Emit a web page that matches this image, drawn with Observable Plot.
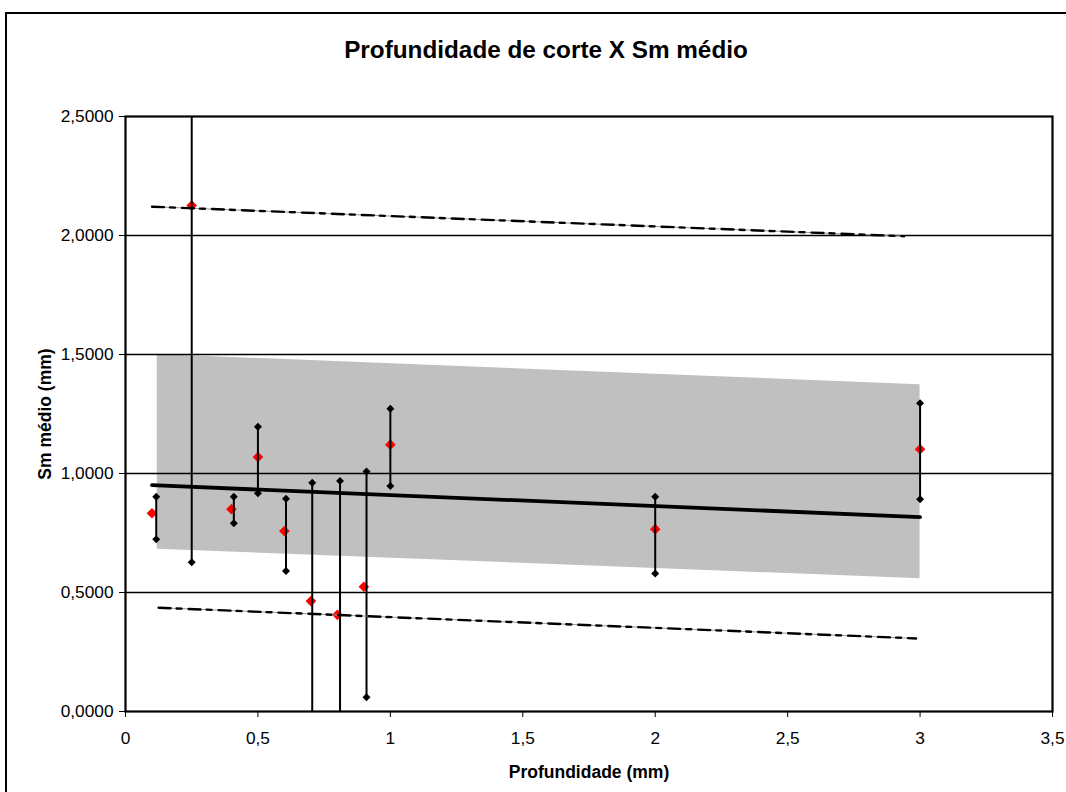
<!DOCTYPE html>
<html><head><meta charset="utf-8">
<script src="https://cdn.jsdelivr.net/npm/d3@7"></script>
<script src="https://cdn.jsdelivr.net/npm/@observablehq/plot@0.6"></script>
<style>
html,body{margin:0;padding:0;background:#fff;overflow:hidden;}
body{width:1066px;height:792px;position:relative;font-family:"Liberation Sans",Arial,sans-serif;}
#border{position:absolute;left:5px;top:12px;width:1100px;height:900px;border:2px solid #000;pointer-events:none;}
#title{height:100px;box-sizing:border-box;padding-top:38px;padding-left:26px;width:1066px;line-height:24px;font-size:24.3px;font-weight:bold;text-align:center;color:#000;}
#chart svg{display:block;}
</style></head><body>
<div id="border"></div>
<div id="title">Profundidade de corte X Sm médio</div>
<div id="chart"></div>
<script>
// Data
const depth  = [0.1, 0.25, 0.4, 0.5, 0.6, 0.7, 0.8, 0.9, 1.0, 2.0, 3.0];
const smMean = [0.833, 2.126, 0.850, 1.069, 0.758, 0.464, 0.406, 0.524, 1.121, 0.766, 1.102];
const barX   = [0.116, 0.25, 0.409, 0.5, 0.606, 0.705, 0.81, 0.91, 1.0, 2.0, 3.0];
const smMax  = [0.902, 3.6, 0.902, 1.196, 0.894, 0.961, 0.969, 1.008, 1.272, 0.902, 1.295];
const smMin  = [0.724, 0.627, 0.791, 0.917, 0.590, -0.05, -0.15, 0.060, 0.947, 0.580, 0.892];

const fitX = [0.1, 3.0];
const fitY = [0.951, 0.817];
const bandX  = [0.12, 3.0];
const bandLo = [0.682, 0.558];
const bandHi = [1.500, 1.373];
const upX = [0.1, 2.94];
const upY = [2.121, 1.997];
const lowX = [0.125, 2.985];
const lowY = [0.436, 0.307];

const xTicks = [0, 0.5, 1, 1.5, 2, 2.5, 3, 3.5];
const yTicks = [0, 0.5, 1, 1.5, 2, 2.5];
const gridY = [0.5, 1, 1.5, 2];

const rows = depth.map((d, i) => ({depth: d, mean: smMean[i], bx: barX[i], hi: smMax[i], lo: smMin[i]}));
const fit = fitX.map((x, i) => ({x, y: fitY[i]}));
const band = bandX.map((x, i) => ({x, lo: bandLo[i], hi: bandHi[i]}));
const up = upX.map((x, i) => ({x, y: upY[i]}));
const low = lowX.map((x, i) => ({x, y: lowY[i]}));

const font = '"Liberation Sans", Arial, sans-serif';

const chart = Plot.plot({
  width: 1066, height: 692,
  marginTop: 16, marginLeft: 125, marginRight: 14, marginBottom: 81,
  style: {fontFamily: font, fontSize: "17.3px", color: "#000", background: "#fff", overflow: "visible"},
  x: {domain: [0, 3.5], ticks: xTicks, tickFormat: d => String(d).replace(".", ","), tickSize: 6, tickPadding: 14, label: null},
  y: {domain: [0, 2.5], ticks: yTicks, tickFormat: d => d.toFixed(4).replace(".", ","), tickSize: 6, tickPadding: 6, label: null},
  marks: [
    Plot.areaY(band, {x: "x", y1: "lo", y2: "hi", fill: "#c0c0c0"}),
    Plot.ruleY(gridY, {stroke: "#000", strokeWidth: 1.6}),
    Plot.dot(rows, {x: "depth", y: "mean", symbol: "diamond2", r: 4.8, fill: "#ff0000", stroke: null}),
    Plot.ruleX(rows, {x: "bx", y1: "lo", y2: "hi", stroke: "#000", strokeWidth: 2, clip: true}),
    Plot.dot(rows, {x: "bx", y: "hi", symbol: "diamond2", r: 3.6, fill: "#000", stroke: null, clip: true}),
    Plot.dot(rows, {x: "bx", y: "lo", symbol: "diamond2", r: 3.6, fill: "#000", stroke: null, clip: true}),
    Plot.line(fit, {x: "x", y: "y", stroke: "#000", strokeWidth: 3.8}),
    Plot.line(up, {x: "x", y: "y", stroke: "#999", strokeWidth: 1}),
    Plot.line(up, {x: "x", y: "y", stroke: "#000", strokeWidth: 2.4, strokeDasharray: "12,6,5,7"}),
    Plot.line(low, {x: "x", y: "y", stroke: "#999", strokeWidth: 1}),
    Plot.line(low, {x: "x", y: "y", stroke: "#000", strokeWidth: 2.4, strokeDasharray: "12,6,5,7"}),
    Plot.frame({stroke: "#000", strokeWidth: 2.2}),
    Plot.text(["Profundidade (mm)"], {frameAnchor: "bottom", dy: 61, lineAnchor: "middle", fontWeight: "bold", fontSize: 17.5, fill: "#000"}),
    Plot.text(["Sm médio (mm)"], {frameAnchor: "left", dx: -80, rotate: -90, textAnchor: "middle", lineAnchor: "middle", fontWeight: "bold", fontSize: 17.5, fill: "#000"})
  ]
});
document.getElementById("chart").appendChild(chart);
</script>
</body></html>
